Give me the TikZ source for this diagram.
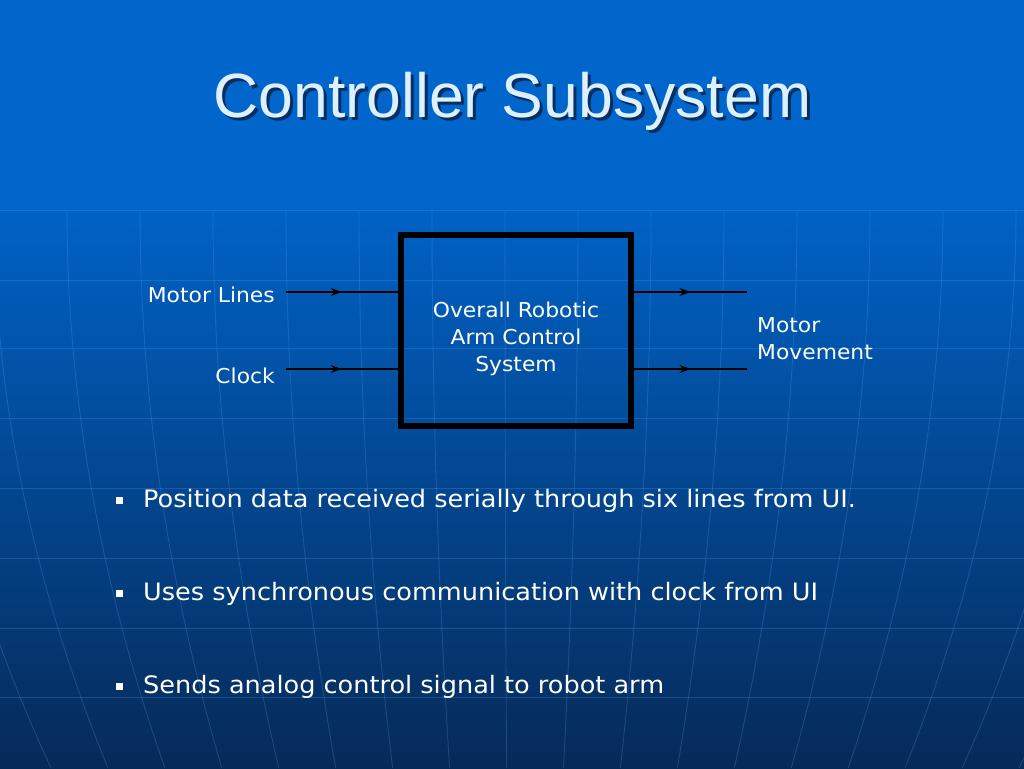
\documentclass[tikz,border=0pt]{standalone}
\usepackage{fontspec}
\setmainfont{Liberation Sans}
\newfontfamily\tah[FakeStretch=1.065]{DejaVu Sans}
\usetikzlibrary{arrows.meta,decorations.markings}
\definecolor{bgtop}{RGB}{0,102,204}
\definecolor{bgup}{RGB}{0,98,198}
\definecolor{bgmid}{RGB}{8,70,144}
\definecolor{bgbot}{RGB}{6,42,88}
\definecolor{gridc}{RGB}{90,160,235}
\definecolor{titlec}{RGB}{221,240,255}
\definecolor{shadowc}{RGB}{10,28,60}
\begin{document}
\begin{tikzpicture}[x=1pt,y=-1pt,
  lbl/.style={font=\tah\fontsize{20.5}{27}\selectfont, text=white, inner sep=0pt},
  btxt/.style={font=\tah\fontsize{24}{28}\selectfont, text=white, inner sep=0pt, anchor=base west},
  bmark/.style={fill=white, minimum size=7pt, inner sep=0pt},
  ttl/.style={font=\fontsize{62.5}{62.5}\selectfont, anchor=base, inner sep=0pt},
  sig/.style={draw=black, line width=1.5pt, postaction={decorate},
    decoration={markings, mark=at position 0.5 with {\arrow{Stealth[length=11pt,width=8pt]}}}},
  gridln/.style={draw=gridc, line width=0.9pt, opacity=0.25}
]
\useasboundingbox (0,0) rectangle (1024,768);
\fill[bgtop] (0,0) rectangle (1024,210);
\shade[top color=bgup, middle color=bgmid, bottom color=bgbot] (0,210) rectangle (1024,768);
\begin{scope}
  \clip (0,0) rectangle (1024,768);
  \foreach \yy in {210,280,348,418,488,558,628,697}
    \draw[gridln] (0,\yy) -- (1024,\yy);
  \foreach \k in {-10,...,10}
    \draw[gridln] plot[domain=0:1, samples=25, smooth] ({512+(505+73*\k-512)*(1-0.22*\x*\x)},{210+558*\x});
\end{scope}

% title with shadow
\node[ttl, text=shadowc, opacity=0.75] (tsh) at (515.5,120) {Controller Subsystem};
\node[ttl, text=titlec] (title) at (512.5,117) {Controller Subsystem};

% system box
\node[draw=black, line width=6pt, minimum width=230.5pt, minimum height=191pt, inner sep=0pt] (sys) at (515.75,330.5) {};
\node[lbl, align=center] (syst) at (516,338.7) {Overall Robotic\\Arm Control\\System};

% connectors
\coordinate (in1) at (286,292);
\coordinate (in2) at (286,369);
\coordinate (out1) at (747,292);
\coordinate (out2) at (747,369);
\draw[sig] (in1) -- (in1 -| sys.west);
\draw[sig] (in2) -- (in2 -| sys.west);
\draw[sig] (out1 -| sys.east) -- (out1);
\draw[sig] (out2 -| sys.east) -- (out2);

% labels
\node[lbl, anchor=base east] (ml) at (275,302) {Motor Lines};
\node[lbl, anchor=base east] (ck) at (275,383) {Clock};
\node[lbl, align=left, anchor=west] (mm) at (757,338.2) {Motor\\Movement};

% bullets
\node[bmark] (b1) at (119.5,500.5) {};
\node[btxt] (t1) at (143,507) {Position data received serially through six lines from UI.};
\node[bmark] (b2) at (119.5,593.5) {};
\node[btxt] (t2) at (143,600) {Uses synchronous communication with clock from UI};
\node[bmark] (b3) at (119.5,686.5) {};
\node[btxt] (t3) at (143,693) {Sends analog control signal to robot arm};
\end{tikzpicture}
\end{document}
